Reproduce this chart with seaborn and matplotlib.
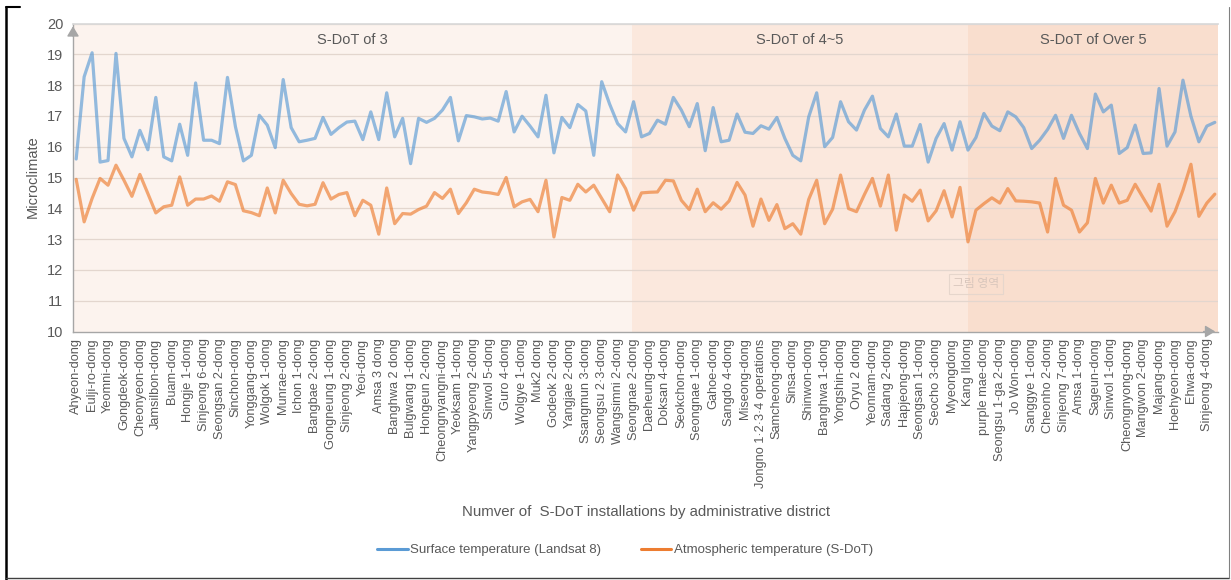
import numpy as np
import pandas as pd
import matplotlib
matplotlib.use("Agg")
import matplotlib.pyplot as plt
import seaborn as sns
from matplotlib.lines import Line2D

districts = [
    "Ahyeon-dong", "Eulji-ro-dong", "Yeomni-dong", "Gongdeok-dong", "Cheonyeon-dong",
    "Jamsilbon-dong", "Buam-dong", "Hongje 1-dong", "Sinjeong 6-dong", "Seongsan 2-dong",
    "Sinchon-dong", "Yonggang-dong", "Wolgok 1-dong", "Munrae-dong", "Ichon 1-dong",
    "Bangbae 2-dong", "Gongneung 1-dong", "Sinjeong 2-dong", "Yeoi-dong", "Amsa 3 dong",
    "Banghwa 2 dong", "Bulgwang 1-dong", "Hongeun 2-dong", "Cheongnyangni-dong",
    "Yeoksam 1-dong", "Yangpyeong 2-dong", "Sinwol 5-dong", "Guro 4-dong", "Wolgye 1-dong",
    "Muk2 dong", "Godeok 2-dong", "Yangjae 2-dong", "Ssangmun 3-dong", "Seongsu 2·3-dong",
    "Wangsimni 2-dong", "Seongnae 2-dong", "Daeheung-dong", "Doksan 4-dong",
    "Seokchon-dong", "Seongnae 1-dong", "Gahoe-dong", "Sangdo 4-dong", "Miseong-dong",
    "Jongno 1·2·3·4 operations", "Samcheong-dong", "Sinsa-dong", "Shinwon-dong",
    "Banghwa 1-dong", "Yongshin-dong", "Oryu 2 dong", "Yeonnam-dong", "Sadang 2-dong",
    "Hapjeong-dong", "Seongsan 1-dong", "Seocho 3-dong", "Myeongdong", "Kang Ildong",
    "purple mae-dong", "Seongsu 1-ga 2-dong", "Jo Won-dong", "Sanggye 1-dong",
    "Cheonho 2-dong", "Sinjeong 7-dong", "Amsa 1-dong", "Sageun-dong", "Sinwol 1-dong",
    "Cheongnyong-dong", "Mangwon 2-dong", "Majang-dong", "Hoehyeon-dong", "Ehwa-dong",
    "Sinjeong 4-dong",
]

surface = [
    15.60, 18.27, 19.05, 15.50, 15.55, 19.03, 16.27, 15.67, 16.53, 15.90,
    17.60, 15.67, 15.54, 16.73, 15.72, 18.07, 16.21, 16.21, 16.10, 18.25,
    16.65, 15.54, 15.72, 17.02, 16.70, 15.97, 18.18, 16.62, 16.16, 16.21,
    16.27, 16.95, 16.40, 16.62, 16.80, 16.83, 16.23, 17.13, 16.23, 17.75,
    16.32, 16.92, 15.45, 16.92, 16.79, 16.92, 17.19, 17.60, 16.19, 17.01,
    16.97, 16.90, 16.93, 16.83, 17.79, 16.48, 16.99, 16.67, 16.32, 17.67,
    15.80, 16.95, 16.62, 17.37, 17.16, 15.72, 18.11, 17.38, 16.75, 16.48,
    17.46, 16.32, 16.43, 16.86, 16.73, 17.60, 17.19, 16.65, 17.40, 15.87,
    17.27, 16.16, 16.21, 17.06, 16.47, 16.43, 16.68, 16.57, 16.95, 16.27,
    15.72, 15.54, 16.97, 17.75, 16.00, 16.30, 17.46, 16.81, 16.54, 17.19,
    17.64, 16.59, 16.32, 17.06, 16.02, 16.02, 16.72, 15.50, 16.27, 16.75,
    15.89, 16.81, 15.89, 16.30, 17.08, 16.67, 16.52, 17.13, 16.97, 16.62,
    15.94, 16.21, 16.56, 17.02, 16.27, 17.02, 16.43, 15.94, 17.71, 17.13,
    17.35, 15.78, 15.97, 16.70, 15.78, 15.80, 17.89, 16.02, 16.48, 18.16,
    16.99, 16.16, 16.67, 16.79,
]

atmospheric = [
    14.94, 13.56, 14.32, 14.97, 14.75, 15.40, 14.91, 14.39, 15.10, 14.48,
    13.85, 14.05, 14.10, 15.02, 14.10, 14.30, 14.30, 14.40, 14.23, 14.86,
    14.77, 13.92, 13.86, 13.76, 14.66, 13.85, 14.91, 14.48, 14.13, 14.08,
    14.13, 14.83, 14.30, 14.45, 14.51, 13.76, 14.26, 14.10, 13.16, 14.66,
    13.50, 13.83, 13.81, 13.96, 14.07, 14.51, 14.32, 14.62, 13.83, 14.18,
    14.62, 14.53, 14.50, 14.45, 15.00, 14.05, 14.21, 14.29, 13.89, 14.91,
    13.07, 14.35, 14.26, 14.78, 14.53, 14.75, 14.32, 13.89, 15.08, 14.64,
    13.94, 14.50, 14.52, 14.53, 14.91, 14.89, 14.26, 13.96, 14.62, 13.89,
    14.18, 13.97, 14.24, 14.84, 14.43, 13.42, 14.30, 13.61, 14.12, 13.34,
    13.50, 13.16, 14.29, 14.91, 13.50, 13.97, 15.08, 13.99, 13.89, 14.45,
    14.97, 14.07, 15.08, 13.29, 14.43, 14.23, 14.59, 13.59, 13.92, 14.57,
    13.72, 14.68, 12.91, 13.94, 14.15, 14.34, 14.17, 14.64, 14.24, 14.23,
    14.21, 14.17, 13.23, 14.97, 14.10, 13.94, 13.23, 13.53, 14.97, 14.17,
    14.75, 14.17, 14.26, 14.78, 14.34, 13.91, 14.78, 13.42, 13.89, 14.59,
    15.43, 13.74, 14.17, 14.46,
]

series_names = ["Surface temperature (Landsat 8)", "Atmospheric temperature (S-DoT)"]
series_colors = ["#5B9BD5", "#ED7D31"]
group_labels = ["S-DoT of 3", "S-DoT of 4~5", "S-DoT of Over 5"]

sns.set_theme(style="white")
plt.rcParams["font.family"] = ["Liberation Sans", "DejaVu Sans"]

n = len(surface)
pos = np.arange(n)
df = pd.concat([
    pd.DataFrame({"pos": pos, "value": surface, "series": series_names[0]}),
    pd.DataFrame({"pos": pos, "value": atmospheric, "series": series_names[1]}),
])

W, H = 1231, 580
fig = plt.figure(figsize=(W / 100, H / 100), dpi=100)
ax = fig.add_axes([73 / W, 1 - 331.5 / H, (1218 - 73) / W, (331.5 - 23.5) / H])

# shaded groups
bounds = [-0.4, 69.75, 112.0, 143.4]
shades = ["#FCF3EE", "#FBE8DD", "#F9DECE"]
for i in range(3):
    ax.axvspan(bounds[i], bounds[i + 1], color=shades[i], zorder=0, lw=0)
    ax.text((bounds[i] + bounds[i + 1]) / 2, 19.45, group_labels[i], ha="center", va="center",
            fontsize=10.5, color="#595959", zorder=5)

for yv in range(11, 21):
    ax.axhline(yv, color="#E3D6CE", lw=0.9, zorder=1)

sns.lineplot(data=df, x="pos", y="value", hue="series", palette=series_colors,
             lw=2.3, alpha=0.66, ax=ax, legend=False, zorder=3)

ax.set_xlim(-0.4, 143.4)
ax.set_ylim(10, 20)
ax.set_yticks(range(10, 21))
ax.set_xticks(pos[::2])
ax.set_xticklabels(districts, rotation=90, fontsize=9.2, color="#595959")
ax.tick_params(axis="y", labelsize=10.5, labelcolor="#595959", length=0, pad=7)
ax.tick_params(axis="x", length=0, pad=5)
ax.set_xlabel("")
ax.set_ylabel("")
for s in ["left", "bottom"]:
    ax.spines[s].set_color("#A6A6A6")
    ax.spines[s].set_linewidth(1.0)
ax.spines["top"].set_color("#D9D9D9")
ax.spines["right"].set_visible(False)

# axis arrows
ax.annotate("", xy=(0, 1.0), xytext=(0, 0.95), xycoords="axes fraction",
            arrowprops=dict(arrowstyle="-|>,head_length=0.5,head_width=0.3", color="#A6A6A6", lw=1),
            annotation_clip=False)
ax.annotate("", xy=(1.0, 0), xytext=(0.985, 0), xycoords="axes fraction",
            arrowprops=dict(arrowstyle="-|>,head_length=0.5,head_width=0.3", color="#A6A6A6", lw=1),
            annotation_clip=False)

# placeholder text inside plot
ax.text(113.0, 11.55, "그림 영역", ha="center", va="center", fontsize=8.5, color="#D8C6BC",
        family=["Noto Sans CJK KR", "DejaVu Sans"], zorder=4,
        bbox=dict(boxstyle="square,pad=0.3", fc="none", ec="#E6D6CC", lw=0.8))

fig.text(33 / W, 1 - 177 / H, "Microclimate", rotation=90, ha="center", va="center",
         fontsize=10.5, color="#595959")
fig.text(646 / W, 1 - 512 / H, "Numver of  S-DoT installations by administrative district",
         ha="center", va="center", fontsize=10.8, color="#595959")

handles = [Line2D([0], [0], color=c, lw=2.2) for c in series_colors]
fig.legend(handles, series_names, loc="center", bbox_to_anchor=(625 / W, 1 - 550 / H),
           ncol=2, frameon=False, fontsize=9.5, labelcolor="#595959", handlelength=2.3,
           handletextpad=0.2, columnspacing=3.0)

# outer frame
fig.add_artist(Line2D([6 / W, 6 / W], [0, 1 - 7 / H], color="black", lw=1.8, transform=fig.transFigure))
fig.add_artist(Line2D([6 / W, 20 / W], [1 - 7 / H, 1 - 7 / H], color="black", lw=1.5, transform=fig.transFigure))
fig.add_artist(Line2D([6 / W, 1229 / W], [2 / H, 2 / H], color="#404040", lw=1.0, transform=fig.transFigure))
fig.add_artist(Line2D([1229 / W, 1229 / W], [2 / H, 1 - 7 / H], color="#808080", lw=0.8, transform=fig.transFigure))

fig.savefig("out.png", dpi=100)
